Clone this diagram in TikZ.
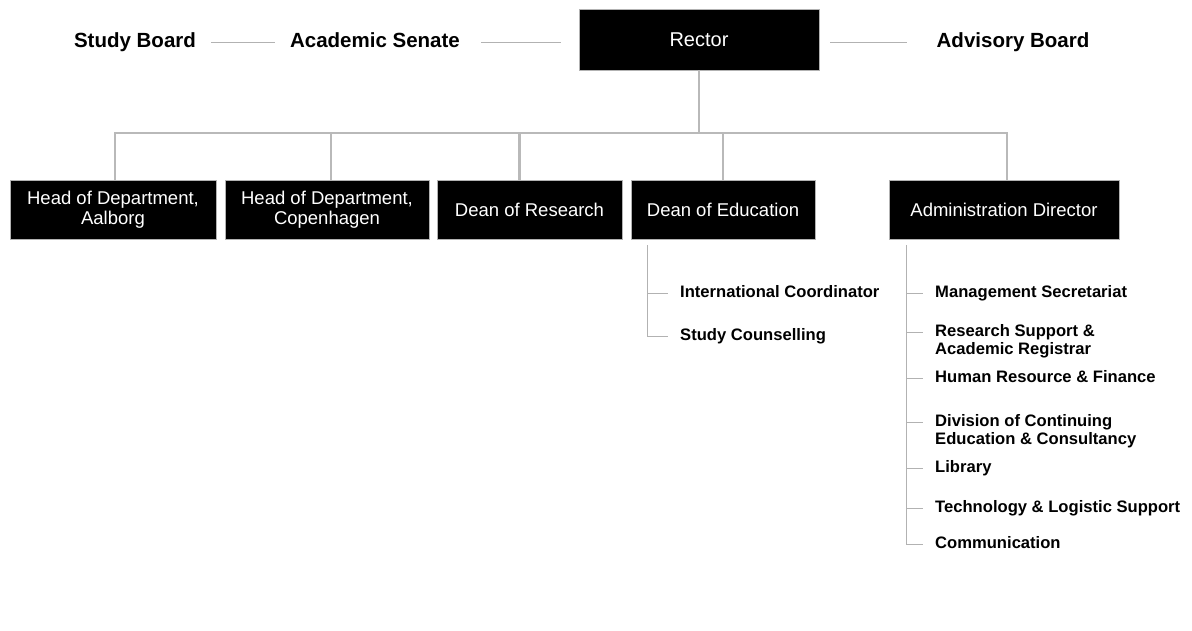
\documentclass[tikz,border=0pt]{standalone}
\usepackage{fontspec}
\setmainfont{Liberation Sans}
\begin{document}
\begin{tikzpicture}[x=1pt,y=-1pt,
  box/.style={fill=black,draw=gray!60,line width=0.6pt,text=white,align=center,
    font=\fontsize{18.5}{20}\selectfont,inner sep=0pt,minimum height=59pt},
  toplabel/.style={font=\bfseries\fontsize{20.5}{24}\selectfont,inner sep=0pt,
    text height=15pt,text depth=4pt},
  sublabel/.style={font=\bfseries\fontsize{16.6}{18}\selectfont,align=left,anchor=west,inner sep=0pt},
  unit/.style={sublabel,text height=12pt,text depth=3.5pt},
  tree/.style={draw=gray!55,line width=2.2pt},
  twig/.style={draw=gray!60,line width=0.9pt},
]
\useasboundingbox[fill=white] (0,0) rectangle (1192,630);

% top row
\node[box,minimum width=240pt,minimum height=61pt,font=\fontsize{20}{24}\selectfont] (rector) at (699,39.5) {Rector};
\node[toplabel] (sb) at (135,42) {Study Board};
\node[toplabel] (as) at (375,42) {Academic Senate};
\node[toplabel] (ab) at (1013,42) {Advisory Board};
\draw[twig] ([xshift=15pt]sb.east) -- ([xshift=-15pt]as.west);
\draw[twig] ([xshift=21pt]as.east) -- ([xshift=-18pt]as.east -| rector.west);
\draw[twig] ([xshift=11pt]ab.west -| rector.east) -- ([xshift=-29pt]ab.west);

% second row
\node[box,minimum width=206pt] (hoda) at (113,209.5) {Head of Department,\\Aalborg};
\node[box,minimum width=204pt] (hodc) at (327,209.5) {Head of Department,\\Copenhagen};
\node[box,minimum width=185pt] (dor) at (529.5,209.5) {Dean of Research};
\node[box,minimum width=184pt] (doe) at (723,209.5) {Dean of Education};
\node[box,minimum width=230pt] (adm) at (1004,209.5) {Administration Director};

% main tree
\coordinate (bar) at (0,133);
\draw[tree] (rector.south) -- (rector.south |- bar);
\draw[tree] ([xshift=2pt]hoda.north) |- ([xshift=3pt]adm.north |- bar) -- ([xshift=3pt]adm.north);
\draw[tree] ([xshift=4pt]hodc.north) -- ([xshift=4pt]hodc.north |- bar);
\draw[tree] ([xshift=-10pt]dor.north) -- ([xshift=-10pt]dor.north |- bar);
\draw[tree] (doe.north) -- (doe.north |- bar);

% units under the Dean of Education
\coordinate (doespine) at (647,245);
\node[unit] (ic) at (680,293) {International Coordinator};
\node[unit] (sc) at (680,336) {Study Counselling};
\draw[twig] (doespine) |- ([xshift=-12pt]sc.west);
\draw[twig] (doespine |- ic.west) -- ([xshift=-12pt]ic.west);

% units under the Administration Director
\coordinate (admspine) at (906,245);
\node[unit] (ms) at (935,293) {Management Secretariat};
\node[sublabel] (rs) at (935,341) {Research Support \&\\Academic Registrar};
\node[unit] (hr) at (935,378) {Human Resource \& Finance};
\node[sublabel] (dc) at (935,431) {Division of Continuing\\Education \& Consultancy};
\node[unit] (lib) at (935,468) {Library};
\node[unit] (tech) at (935,508) {Technology \& Logistic Support};
\node[unit] (comm) at (935,544) {Communication};
% two-line units are joined at their first line
\coordinate (rsb) at ([yshift=9pt]rs.west);
\coordinate (dcb) at ([yshift=9pt]dc.west);
\draw[twig] (admspine) |- ([xshift=-12pt]comm.west);
\draw[twig] (admspine |- ms.west) -- ([xshift=-12pt]ms.west);
\draw[twig] (admspine |- rsb) -- ([xshift=-12pt]rsb);
\draw[twig] (admspine |- hr.west) -- ([xshift=-12pt]hr.west);
\draw[twig] (admspine |- dcb) -- ([xshift=-12pt]dcb);
\draw[twig] (admspine |- lib.west) -- ([xshift=-12pt]lib.west);
\draw[twig] (admspine |- tech.west) -- ([xshift=-12pt]tech.west);
\end{tikzpicture}
\end{document}
